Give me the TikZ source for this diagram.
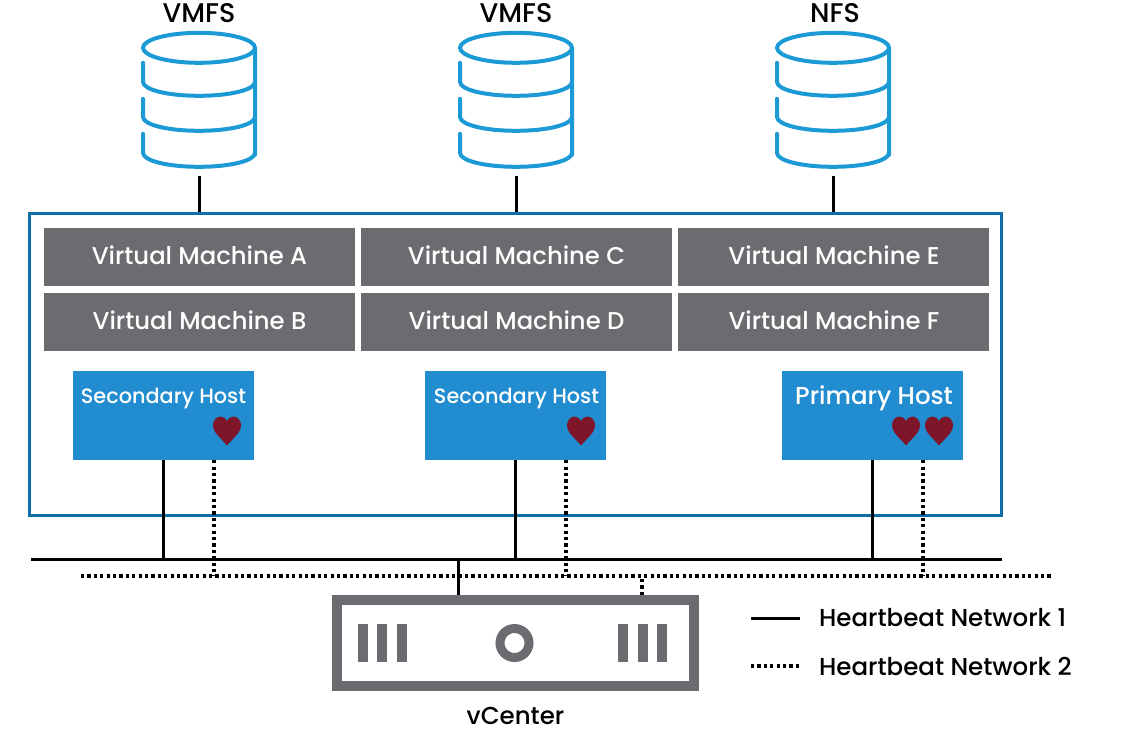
\documentclass[tikz,border=0pt]{standalone}
\usepackage{fontspec}
\setmainfont{Poppins Medium}
\definecolor{diskblue}{HTML}{1C9AD6}
\definecolor{framblue}{HTML}{0F6FA6}
\definecolor{hostblue}{HTML}{218CD0}
\definecolor{vmgray}{HTML}{6A6C6F}
\definecolor{heartred}{HTML}{7E1528}
\tikzset{
	vmbox/.style={shape=rectangle, fill=vmgray, minimum width=311pt, minimum height=58pt, inner sep=0pt},
	vmtext/.style={text=white, inner sep=0pt, font=\fontsize{24.3}{26}\selectfont},
	hostbox/.style={shape=rectangle, fill=hostblue, minimum width=181pt, minimum height=89pt, inner sep=0pt},
	hosttext/.style={text=white, inner sep=0pt},
	dbslot/.style={shape=rectangle, minimum width=112pt, minimum height=143pt, inner sep=0pt},
	plainlabel/.style={text=black, inner sep=0pt, font=\fontsize{24.5}{26}\selectfont},
	dblabel/.style={text=black, inner sep=0pt, font=\fontsize{27}{29}\selectfont},
	netone/.style={black, line width=3pt},
	nettwo/.style={black, line width=3.2pt, dash pattern=on 3.2pt off 3.2pt},
	bar/.style={fill=vmgray, draw=none},
	database/.pic={
		\draw[diskblue, line width=4pt, line cap=round, line join=round]
			(0,15) ellipse [x radius=56pt, y radius=15pt]
			(56,15) -- (56,122)
			(-56,30) -- (-56,49) .. controls (-56,57) and (-31,63) .. (0,63) .. controls (31,63) and (56,57) .. (56,49)
			(-56,66) -- (-56,84) .. controls (-56,92) and (-31,98) .. (0,98) .. controls (31,98) and (56,92) .. (56,84)
			(-56,101) -- (-56,120) .. controls (-56,128) and (-31,134) .. (0,134) .. controls (31,134) and (56,128) .. (56,120);
	},
	heart/.pic={
		\fill[heartred] (0,14.5) .. controls (-6,7) and (-14,2) .. (-14,-6) .. controls (-14,-11) and (-10,-14.5) .. (-6.5,-14.5)
			.. controls (-3.5,-14.5) and (-1,-12.5) .. (0,-10) .. controls (1,-12.5) and (3.5,-14.5) .. (6.5,-14.5)
			.. controls (10,-14.5) and (14,-11) .. (14,-6) .. controls (14,2) and (6,7) .. (0,14.5) -- cycle;
	}
}
\begin{document}
\begin{tikzpicture}[x=1pt, y=-1pt]
	\useasboundingbox (0,0) rectangle (1136,732);

	% storage
	\node[dblabel] (label1) at (199,13)  {VMFS};
	\node[dblabel] (label2) at (516,13)  {VMFS};
	\node[dblabel] (label3) at (835,13)  {NFS};
	\node[dbslot]  (db1)    at (199,104.5) {};
	\node[dbslot]  (db2)    at (516,104.5) {};
	\node[dbslot]  (db3)    at (833,104.5) {};
	\pic at (db1.north) {database};
	\pic at (db2.north) {database};
	\pic at (db3.north) {database};

	% cluster
	\node[shape=rectangle, draw=framblue, line width=3pt, minimum width=972pt, minimum height=302pt, inner sep=0pt] (cluster) at (515,364) {};

	\node[vmbox] (vma) at (199.5,257)  {};
	\node[vmbox] (vmb) at (199.5,322)  {};
	\node[vmbox] (vmc) at (516.5,257)  {};
	\node[vmbox] (vmd) at (516.5,322)  {};
	\node[vmbox] (vme) at (833.5,257)  {};
	\node[vmbox] (vmf) at (833.5,322)  {};
	\node[vmtext] (vmatext) at (199.5,255)  {Virtual Machine A};
	\node[vmtext] (vmbtext) at (199.5,320)  {Virtual Machine B};
	\node[vmtext] (vmctext) at (516.5,255)  {Virtual Machine C};
	\node[vmtext] (vmdtext) at (516.5,320)  {Virtual Machine D};
	\node[vmtext] (vmetext) at (834,255)    {Virtual Machine E};
	\node[vmtext] (vmftext) at (834,320)    {Virtual Machine F};

	\node[hostbox] (host1) at (163.5,415.5) {};
	\node[hostbox] (host2) at (515.5,415.5) {};
	\node[hostbox] (host3) at (872.5,415.5) {};
	\node[hosttext, font=\fontsize{20.8}{23}\selectfont] (host1text) at (163.5,398.5) {Secondary Host};
	\node[hosttext, font=\fontsize{20.8}{23}\selectfont] (host2text) at (516.5,398.5) {Secondary Host};
	\node[hosttext, font=\fontsize{24.5}{26}\selectfont] (host3text) at (874,398.5)   {Primary Host};
	\pic at (227,431) {heart};
	\pic at (581,431) {heart};
	\pic at (906,431) {heart};
	\pic at (939,431) {heart};

	% vcenter
	\node[shape=rectangle, draw=vmgray, line width=10pt, minimum width=357pt, minimum height=86pt, inner sep=0pt] (vcenter) at (515.5,643) {};
	\node[plainlabel] (vcenterlabel) at (515.5,716) {vCenter};
	\foreach \x in {358,377,397,618,638,657}
		\fill[bar] (\x,624) rectangle ++(10,38);
	\node[shape=circle, draw=vmgray, line width=9pt, minimum size=29pt, inner sep=0pt] (led) at (514.5,643) {};

	% networks
	\coordinate (net1start) at (31,559);
	\coordinate (net1end)   at (1002,559);
	\coordinate (net2start) at (81,576);
	\coordinate (net2end)   at (1052,576);
	\path [netone] (net1start) edge (net1end);
	\path [nettwo] (net2start) edge (net2end);

	\path [netone] (db1.south) edge (db1.south |- cluster.north);
	\path [netone] (db2.south) edge (db2.south |- cluster.north);
	\path [netone] (db3.south) edge (db3.south |- cluster.north);

	\path [netone] (host1.south) edge (host1.south |- net1start);
	\path [netone] (host2.south) edge (host2.south |- net1start);
	\path [netone] (host3.south) edge (host3.south |- net1start);
	\path [nettwo] ([xshift=50.5pt]host1.south) edge ([xshift=50.5pt]host1.south |- net2start);
	\path [nettwo] ([xshift=50.5pt]host2.south) edge ([xshift=50.5pt]host2.south |- net2start);
	\path [nettwo] ([xshift=50.5pt]host3.south) edge ([xshift=50.5pt]host3.south |- net2start);

	\path [netone] (vcenter.north -| 458,0) edge (458,559);
	\path [nettwo] (vcenter.north -| 642,0) edge (642,576);

	% legend
	\coordinate (key1start) at (751,618);
	\coordinate (key1end)   at (800,618);
	\coordinate (key2start) at (751,666);
	\coordinate (key2end)   at (800,666);
	\path [netone] (key1start) edge (key1end);
	\path [nettwo] (key2start) edge (key2end);
	\node[plainlabel, anchor=west] (key1) at (819,618) {Heartbeat Network 1};
	\node[plainlabel, anchor=west] (key2) at (819,666) {Heartbeat Network 2};
\end{tikzpicture}
\end{document}
